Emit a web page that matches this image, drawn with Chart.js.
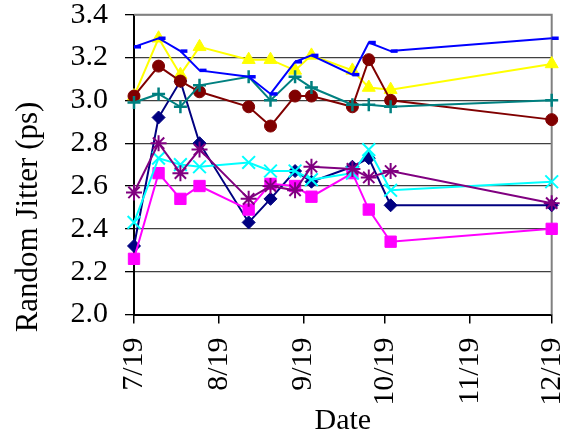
<!DOCTYPE html>
<html>
<head>
<meta charset="utf-8">
<script src="https://cdn.jsdelivr.net/npm/chart.js@4.4.1/dist/chart.umd.min.js"></script>
<style>
  html, body { margin: 0; padding: 0; background: #fff; }
  #wrap { width: 568px; height: 444px; }
</style>
</head>
<body>
<div id="wrap"><canvas id="chart" width="568" height="444"></canvas></div>
<script>
// Fechas de medida y ticks mensuales del eje X
const dates = ['2019-07-01', '2019-07-10', '2019-07-18', '2019-07-25', '2019-08-12', '2019-08-20',
               '2019-08-29', '2019-09-04', '2019-09-19', '2019-09-25', '2019-10-03', '2019-12-01'];
const tickDates = ['2019-07-01', '2019-08-01', '2019-09-01', '2019-10-01', '2019-11-01', '2019-12-01'];
const tickLabels = ['7/19', '8/19', '9/19', '10/19', '11/19', '12/19'];
const yTicks = [2.0, 3.4, 0.2]; // min, max, paso

// Series (ps)
const navyVals    = [2.32, 2.92, 3.09, 2.80, 2.43, 2.54, 2.67, 2.62, 2.69, 2.73, 2.51, 2.51];
const magentaVals = [2.26, 2.66, 2.54, 2.60, 2.49, 2.61, 2.60, 2.55, 2.66, 2.49, 2.34, 2.40];
const yellowVals  = [3.02, 3.29, 3.12, 3.25, 3.19, 3.19, 3.14, 3.21, 3.14, 3.06, 3.05, 3.17];
const cyanVals    = [2.43, 2.73, 2.70, 2.69, 2.71, 2.67, 2.67, 2.63, 2.66, 2.77, 2.58, 2.62];
const purpleVals  = [2.57, 2.80, 2.66, 2.77, 2.54, 2.60, 2.58, 2.69, 2.68, 2.64, 2.67, 2.52];
const redVals     = [3.02, 3.16, 3.09, 3.04, 2.97, 2.88, 3.02, 3.02, 2.97, 3.19, 3.00, 2.91];
const tealVals    = [2.99, 3.03, 2.97, 3.07, 3.11, 3.00, 3.11, 3.06, 2.98, 2.98, 2.97, 3.00];
const blueVals    = [3.25, 3.29, 3.23, 3.14, 3.11, 3.03, 3.18, 3.21, 3.12, 3.27, 3.23, 3.29];

const FONT = 'Liberation Serif, Times New Roman, serif';
const toDay = s => Date.parse(s) / 86400000;
const days = dates.map(toDay);
const tickDays = tickDates.map(toDay);

// Estilo de cada serie (orden de Excel: las últimas quedan encima)
const seriesDefs = [
  { name: 'Series1', vals: navyVals,    color: '#000080', style: 'rectRot',  r: 6.5, bw: 1 },
  { name: 'Series2', vals: magentaVals, color: '#FF00FF', style: 'rect',     r: 8,   bw: 1 },
  { name: 'Series3', vals: yellowVals,  color: '#FFFF00', style: 'triangle', r: 7.5, bw: 1 },
  { name: 'Series4', vals: cyanVals,    color: '#00FFFF', style: 'crossRot', r: 9,   bw: 2 },
  { name: 'Series5', vals: purpleVals,  color: '#800080', style: 'star',     r: 8,   bw: 2 },
  { name: 'Series6', vals: redVals,     color: '#800000', style: 'circle',   r: 6,   bw: 1 },
  { name: 'Series7', vals: tealVals,    color: '#008080', style: 'cross',    r: 6.5, bw: 2.5 },
  { name: 'Series8', vals: blueVals,    color: '#0000FF', style: 'dash',     r: 7,   bw: 3.5 }
];

const datasets = seriesDefs.map((s, i) => ({
  label: s.name,
  data: s.vals.map((v, j) => ({ x: days[j], y: v })),
  borderColor: s.color,
  backgroundColor: s.color,
  borderWidth: 2,
  tension: 0,
  pointStyle: s.style,
  pointRadius: s.r,
  pointBorderWidth: s.bw,
  pointBackgroundColor: s.color,
  pointBorderColor: s.color,
  clip: false,
  order: seriesDefs.length - i
}));

// Marco gris superior y derecho del área de trazado
const plotFrame = {
  id: 'plotFrame',
  beforeDatasetsDraw(chart) {
    const { ctx, chartArea: a } = chart;
    ctx.save();
    ctx.strokeStyle = '#808080';
    ctx.lineWidth = 2;
    ctx.beginPath();
    ctx.moveTo(a.left, a.top);
    ctx.lineTo(a.right, a.top);
    ctx.lineTo(a.right, a.bottom);
    ctx.stroke();
    ctx.restore();
  }
};

new Chart(document.getElementById('chart'), {
  type: 'line',
  data: { datasets: datasets },
  plugins: [plotFrame],
  options: {
    responsive: false,
    animation: false,
    layout: { padding: { left: 0, top: 0, right: 0, bottom: 10 } },
    plugins: {
      legend: { display: false },
      tooltip: { enabled: false },
      title: {
        display: true,
        position: 'left',
        text: 'Random Jitter (ps)',
        color: '#000',
        font: { family: FONT, size: 31, weight: 'normal' },
        padding: { top: 10, bottom: 0 }
      }
    },
    scales: {
      x: {
        type: 'linear',
        min: tickDays[0],
        max: tickDays[tickDays.length - 1],
        afterBuildTicks: axis => { axis.ticks = tickDays.map(v => ({ value: v })); },
        afterFit: axis => { axis.height = 119.5; axis.paddingRight = 16.3; },
        grid: { drawOnChartArea: false, drawTicks: true, tickLength: 9, tickColor: '#000', lineWidth: 1.5 },
        border: { color: '#000', width: 2 },
        ticks: {
          autoSkip: false,
          minRotation: 90,
          maxRotation: 90,
          padding: 14,
          color: '#000',
          font: { family: FONT, size: 30, lineHeight: 1 },
          callback: (v, i) => tickLabels[i]
        },
        title: {
          display: true,
          text: 'Date',
          color: '#000',
          font: { family: FONT, size: 30, lineHeight: 1 },
          padding: { top: 0, bottom: -2.5 }
        }
      },
      y: {
        min: yTicks[0],
        max: yTicks[1],
        afterFit: axis => { axis.width = 134 - 47.2; axis.paddingTop = 14.7; },
        grid: { color: '#404040', lineWidth: 1.3, tickLength: 9, tickColor: '#000' },
        border: { color: '#000', width: 2 },
        ticks: {
          stepSize: yTicks[2],
          padding: 17,
          color: '#000',
          font: { family: FONT, size: 30, lineHeight: 1 },
          callback: v => v.toFixed(1)
        }
      }
    }
  }
});
</script>
</body>
</html>
